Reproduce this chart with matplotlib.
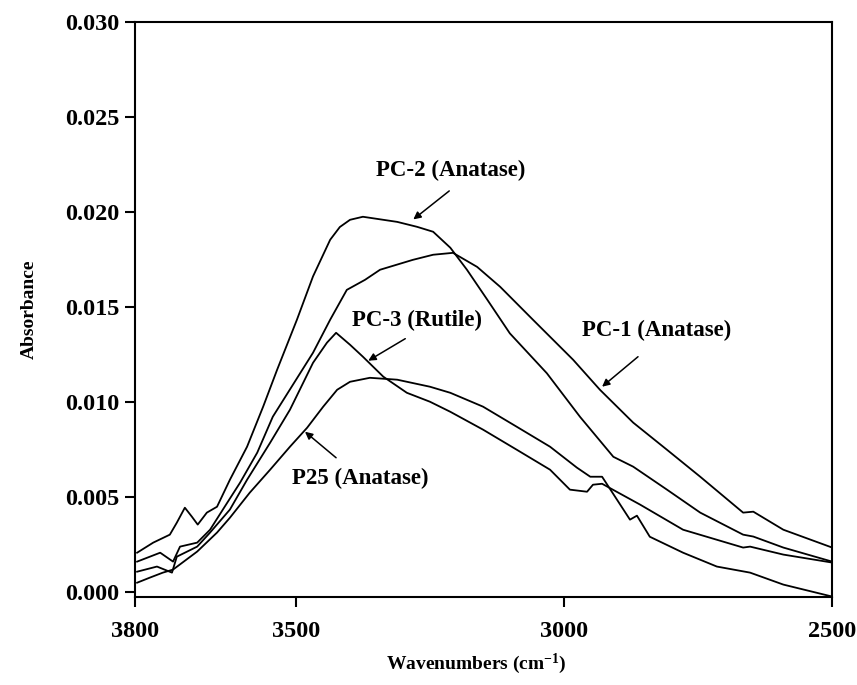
import matplotlib
matplotlib.use("Agg")
import matplotlib.pyplot as plt
import numpy as np

plt.rcParams['font.family'] = ['Liberation Serif', 'DejaVu Serif']
plt.rcParams['font.weight'] = 'bold'
plt.rcParams['mathtext.fontset'] = 'custom'
plt.rcParams['mathtext.rm'] = 'Liberation Serif:bold'
plt.rcParams['mathtext.it'] = 'Liberation Serif:bold'
plt.rcParams['mathtext.bf'] = 'Liberation Serif:bold'

# spectra (wavenumber cm-1, absorbance)
pc2_wn = [3796, 3766, 3735, 3722, 3707, 3694, 3683, 3666, 3647, 3623, 3591, 3561,
          3535, 3498, 3468, 3436, 3418, 3399, 3375, 3311, 3274, 3244, 3212, 3181,
          3143, 3101, 3032, 2970, 2908, 2871, 2808, 2746, 2666, 2647, 2591, 2500]
pc2_ab = [0.00205, 0.00258, 0.0030, 0.00363, 0.00442, 0.00395, 0.00353, 0.00416,
          0.00447, 0.00589, 0.00763, 0.00974, 0.01168, 0.01432, 0.0166, 0.01853,
          0.0192, 0.01958, 0.01974, 0.01947, 0.01921, 0.01895, 0.01811, 0.01695,
          0.01537, 0.0136, 0.0115, 0.0092, 0.0071, 0.00658, 0.00537, 0.00416,
          0.0030, 0.0029, 0.00232, 0.00158]

pc1_wn = [3796, 3753, 3729, 3716, 3684, 3660, 3628, 3604, 3572, 3543, 3468, 3436,
          3405, 3371, 3343, 3282, 3244, 3207, 3162, 3119, 3058, 2983, 2933, 2871,
          2808, 2746, 2666, 2647, 2591, 2500]
pc1_ab = [0.00158, 0.00205, 0.00158, 0.00237, 0.00258, 0.00326, 0.00468, 0.00574,
          0.00732, 0.00921, 0.01258, 0.01432, 0.01589, 0.01642, 0.01695, 0.01747,
          0.01774, 0.01784, 0.0171, 0.01605, 0.01432, 0.01221, 0.01063, 0.0089,
          0.00747, 0.00605, 0.00416, 0.00421, 0.00326, 0.00232]

pc3_wn = [3796, 3759, 3731, 3722, 3684, 3660, 3623, 3591, 3548, 3511, 3468, 3442,
          3425, 3399, 3375, 3337, 3293, 3250, 3212, 3151, 3088, 3026, 2989, 2957,
          2946, 2929, 2858, 2778, 2666, 2653, 2591, 2500]
pc3_ab = [0.00105, 0.00132, 0.0010, 0.00184, 0.00237, 0.00311, 0.00432, 0.00589,
          0.00784, 0.00958, 0.01205, 0.01311, 0.01363, 0.0130, 0.01237, 0.01132,
          0.01047, 0.0100, 0.00947, 0.00853, 0.00747, 0.00642, 0.00537, 0.00526,
          0.00563, 0.00568, 0.00458, 0.00326, 0.00232, 0.00237, 0.00195, 0.00153]

p25_wn = [3796, 3772, 3748, 3729, 3684, 3647, 3623, 3586, 3548, 3511, 3479, 3449,
          3423, 3399, 3362, 3311, 3250, 3212, 3151, 3088, 3026, 2976, 2951, 2929,
          2877, 2864, 2840, 2778, 2715, 2653, 2591, 2500]
p25_ab = [0.00047, 0.00074, 0.0010, 0.00116, 0.00211, 0.00311, 0.00389, 0.00521,
          0.00642, 0.00763, 0.00863, 0.00974, 0.01063, 0.01105, 0.01126, 0.01116,
          0.01079, 0.01047, 0.00974, 0.00868, 0.00763, 0.00653, 0.00605, 0.00605,
          0.00379, 0.0040, 0.00289, 0.00205, 0.00132, 0.0010, 0.00037, -0.00026]

xticks = [3800, 3500, 3000, 2500]
yticks = [0.000, 0.005, 0.010, 0.015, 0.020, 0.025, 0.030]

fig = plt.figure(figsize=(8.57, 6.85), dpi=100)
ax = fig.add_axes([0.1575, 0.128, 0.8135, 0.84])

for wn, ab in [(pc2_wn, pc2_ab), (pc1_wn, pc1_ab), (pc3_wn, pc3_ab), (p25_wn, p25_ab)]:
    ax.plot(wn, ab, color='black', lw=1.3)

ax.set_xlim(3800, 2500)
ax.set_ylim(-0.0003, 0.030)
ax.set_xticks(xticks)
ax.set_yticks(yticks)
ax.set_yticklabels(['%.3f' % v for v in yticks])
ax.tick_params(direction='out', length=7, width=1.5, labelsize=17.5, pad=4)
ax.tick_params(axis='x', pad=10)
for s in ax.spines.values():
    s.set_linewidth(1.5)

ax.set_xlabel('Wavenumbers (cm$^{-1}$)', fontsize=14, fontweight='bold', labelpad=8)
ax.xaxis.set_label_coords(0.49, -0.095)
ax.set_ylabel('Absorbance', fontsize=14, fontweight='bold', labelpad=20)

arrow = dict(arrowstyle='-|>', color='black', lw=1.1, mutation_scale=11, shrinkA=0, shrinkB=0)
ax.annotate('', xy=(3281, 0.0196), xytext=(3214, 0.0211), arrowprops=arrow)
ax.text(3212, 0.02216, 'PC-2 (Anatase)', fontsize=16.5, ha='center', va='center')
ax.annotate('', xy=(3365, 0.01216), xytext=(3296, 0.01332), arrowprops=arrow)
ax.text(3274, 0.01426, 'PC-3 (Rutile)', fontsize=16.5, ha='center', va='center')
ax.annotate('', xy=(2929, 0.01079), xytext=(2862, 0.01237), arrowprops=arrow)
ax.text(2828, 0.01374, 'PC-1 (Anatase)', fontsize=16.5, ha='center', va='center')
ax.annotate('', xy=(3483, 0.00842), xytext=(3425, 0.00705), arrowprops=arrow)
ax.text(3380, 0.00595, 'P25 (Anatase)', fontsize=16.5, ha='center', va='center')

fig.savefig('out.png', dpi=100)
